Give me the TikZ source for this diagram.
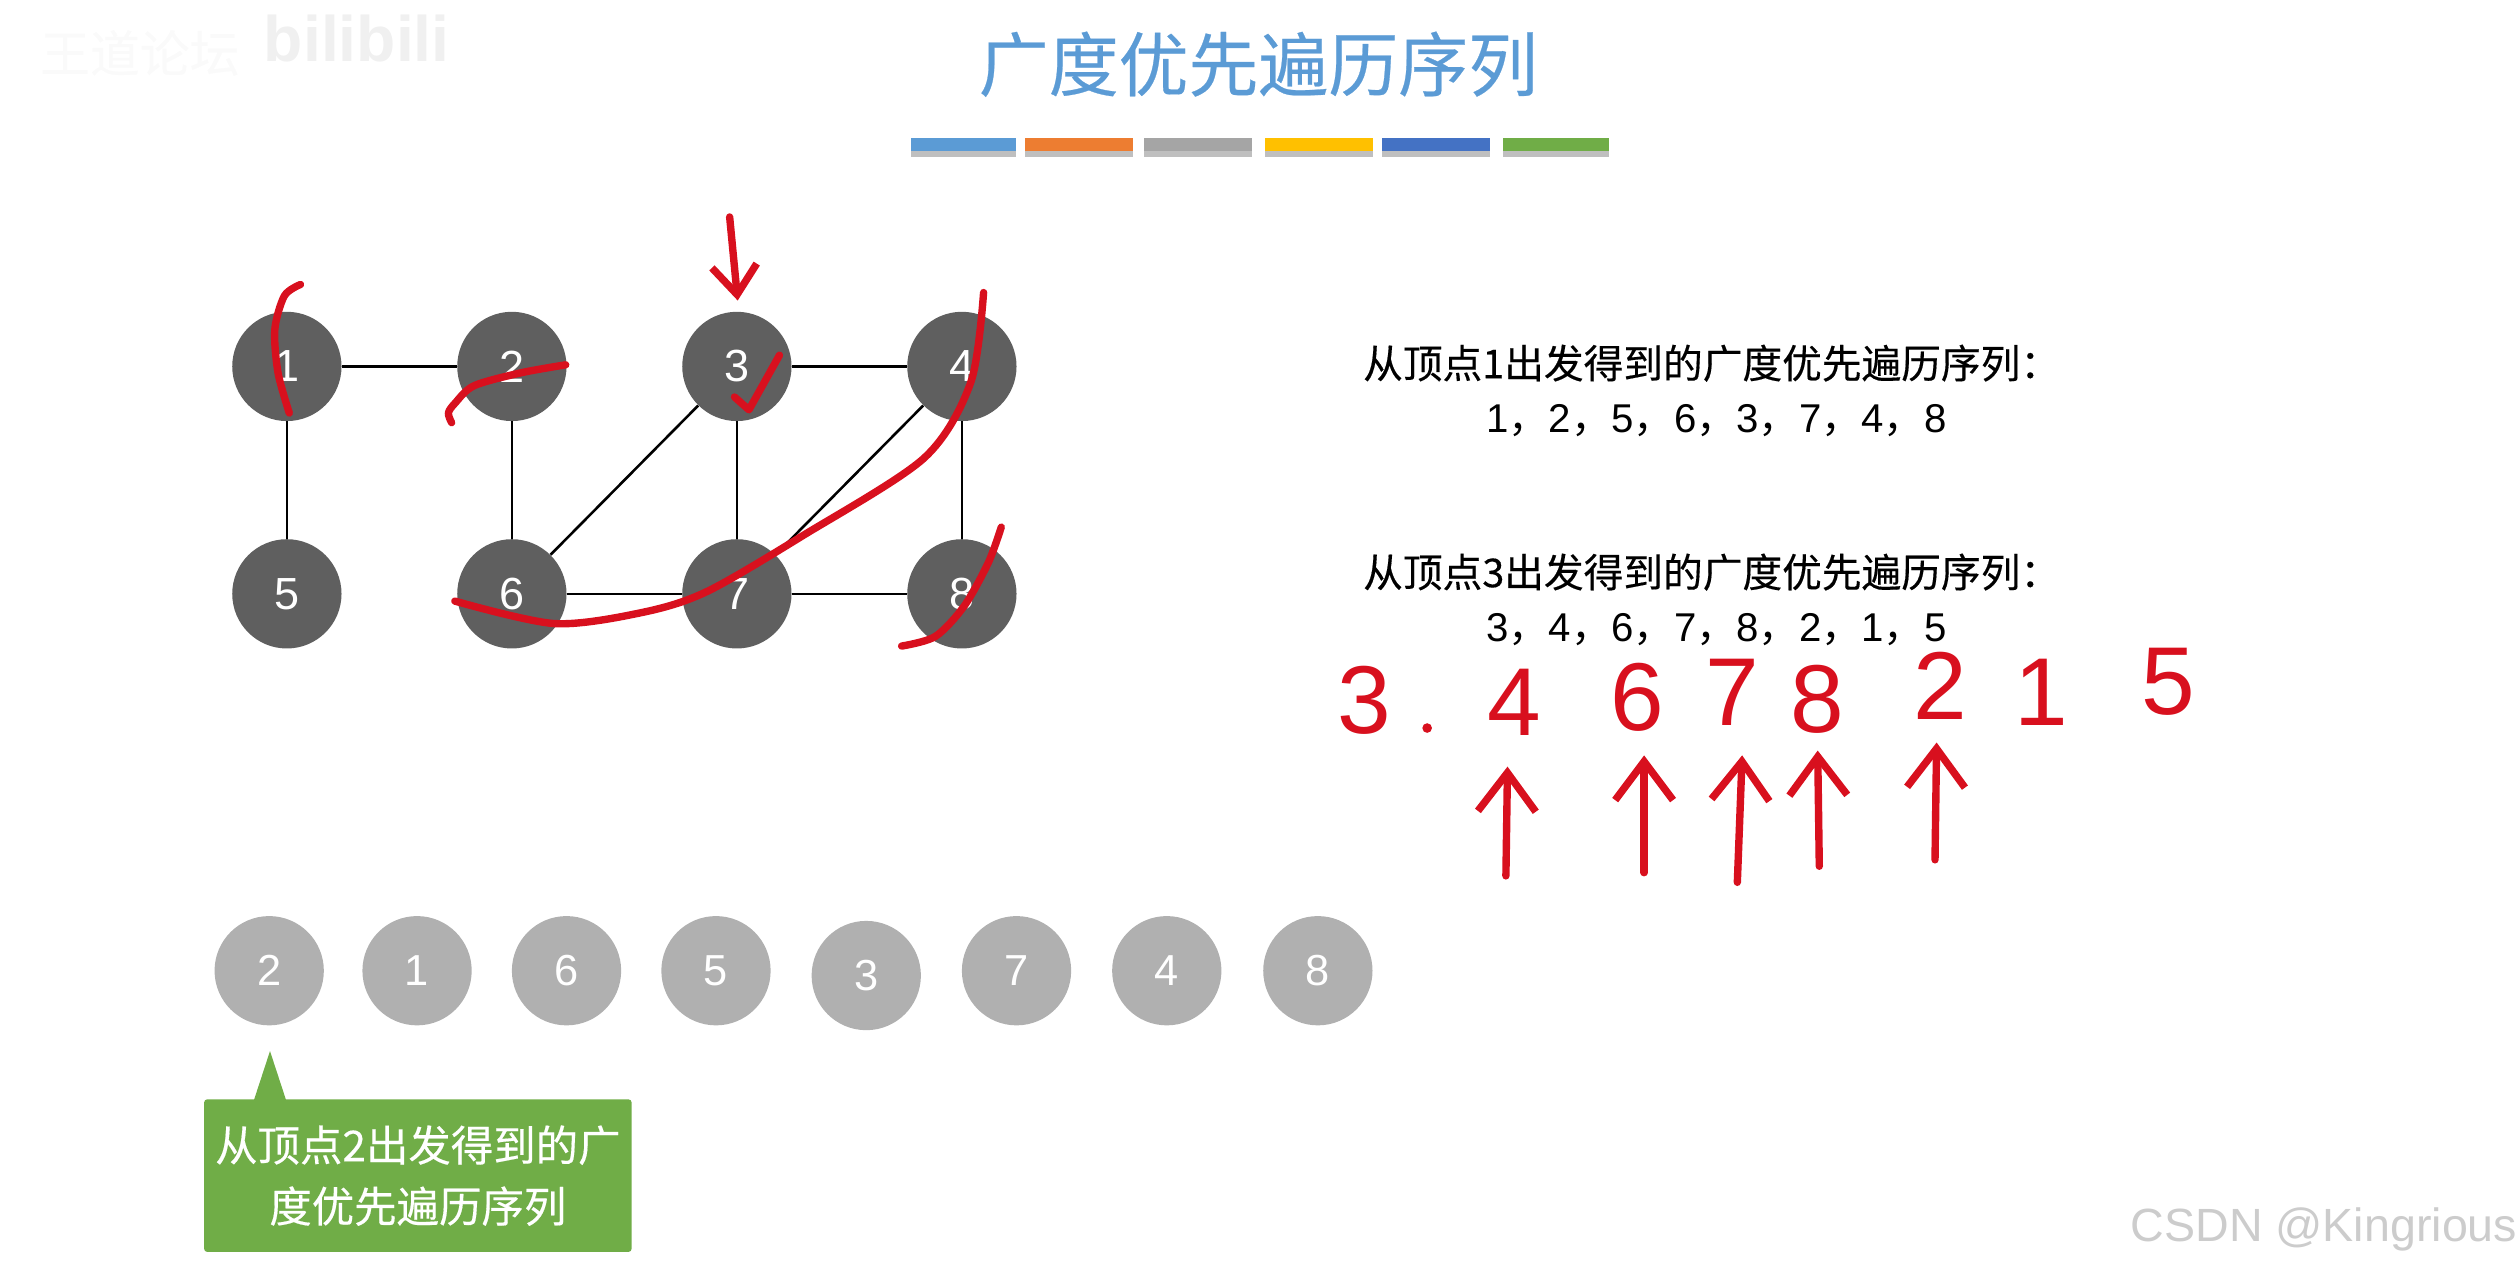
\documentclass[tikz,border=0pt]{standalone}
\usepackage{fontspec}
\setmainfont[FakeBold=0.35]{Noto Sans CJK SC}
\newfontfamily\latinfont{Liberation Sans}
\newfontfamily\commafont{Noto Sans CJK SC}
\newcommand{\seqcomma}{{\commafont ，}}
\usetikzlibrary{arrows.meta,shadows}
\definecolor{vertexgray}{HTML}{5F5F5F}
\definecolor{queuegray}{HTML}{B0B0B0}
\definecolor{tipgreen}{HTML}{70AD47}
\definecolor{titleblue}{HTML}{5B9BD5}
\definecolor{penred}{HTML}{D8101E}
\tikzset{
  vertex/.style={circle, fill=vertexgray, text=white, minimum size=68pt, inner sep=0pt, font=\latinfont\fontsize{28}{28}\selectfont},
  queued/.style={circle, fill=queuegray, text=white, minimum size=68pt, inner sep=0pt, font=\latinfont\fontsize{27}{27}\selectfont},
  edge/.style={line width=1.6pt, black},
  pen/.style={penred, line width=4.6pt, line cap=round, line join=round},
  handdigit/.style={penred, inner sep=0pt, font=\latinfont\fontsize{60}{60}\selectfont},
  seqtext/.style={black, inner sep=0pt, font=\fontsize{24.7}{30}\selectfont},
  seqnums/.style={black, inner sep=0pt, font=\fontsize{25}{30}\selectfont\latinfont},
}
\begin{document}
\begin{tikzpicture}[x=1pt, y=-1pt]
  \useasboundingbox (0,0) rectangle (1568,789);
  % title and colour bars
  \node (title) at (783,40) [titleblue, font=\fontsize{43.5}{43.5}\selectfont] {广度优先遍历序列};
  \foreach \xa/\xb/\col in {567/632/5B9BD5, 638/705/ED7D31, 712/779/A5A5A5, 787/854/FFC000, 860/927/4472C4, 935/1001/70AD47} {
    \definecolor{barcol}{HTML}{\col}
    \fill[barcol, drop shadow={shadow xshift=0pt, shadow yshift=-4pt, opacity=.5}] (\xa,86) rectangle (\xb,94);
  }
  \node (markcn) at (87,33) [black!2, font=\fontsize{31}{31}\selectfont] {王道论坛};
  \node (markbl) at (222,24) [black!6, font=\latinfont\bfseries\fontsize{40}{40}\selectfont] {bilibili};
  % graph
  \foreach \name/\x/\y in {1/178.5/228, 2/318.5/228, 3/458.5/228, 4/598.5/228, 5/178.5/369.5, 6/318.5/369.5, 7/458.5/369.5, 8/598.5/369.5}
    \node[vertex] (v\name) at (\x,\y) {\name};
  \foreach \a/\b in {1/2, 1/5, 2/6, 3/4, 3/6, 3/7, 4/7, 4/8, 6/7, 7/8}
    \draw[edge] (v\a) -- (v\b);
  % queue
  \foreach \name/\x/\y in {2/167.5/604, 1/259.5/604, 6/352.5/604, 5/445.5/604, 3/539/607, 7/632.5/604, 4/726/604, 8/820/604}
    \node[queued] (q\name) at (\x,\y) {\name};
  \node (tip) at (260,731.5) [fill=tipgreen, text=white, rounded corners=2pt, minimum width=266pt, minimum height=95pt, inner sep=0pt, align=center, font=\fontsize{26.4}{38}\selectfont] {从顶点2出发得到的广\\度优先遍历序列};
  \coordinate (tiptop) at (168,654);
  \fill[tipgreen] (tiptop) -- (158,684.5) -- (178,684.5) -- cycle;
  % sequences
  \node[seqtext] (head1) at (1065,226) {从顶点1出发得到的广度优先遍历序列：};
  \node[seqnums] (seq1) at (1068,262) {1\seqcomma 2\seqcomma 5\seqcomma 6\seqcomma 3\seqcomma 7\seqcomma 4\seqcomma 8};
  \node[seqtext] (head3) at (1065,356) {从顶点3出发得到的广度优先遍历序列：};
  \node[seqnums] (seq3) at (1068,392) {3\seqcomma 4\seqcomma 6\seqcomma 7\seqcomma 8\seqcomma 2\seqcomma 1\seqcomma 5};
  % red handwriting
  \draw[pen] plot[smooth] coordinates {(187,177) (177,184) (171,205) (173,232) (180,257)};
  \draw[pen] plot[smooth] coordinates {(352,227) (324,232) (295,240) (283,251) (279,257) (281,263)};
  \draw[pen] (457,247) -- (466,255) -- (485,221);
  \draw[pen] plot[smooth] coordinates {(612,182) (604,238) (575,285) (500,333) (440,368) (400,381) (345,388) (283,374)};
  \draw[pen] plot[smooth] coordinates {(623,328) (615,350) (600,377) (582,396) (561,402)};
  \coordinate (downa) at (454,135);
  \coordinate (downb) at (459,187);
  \draw[pen, -{Straight Barb[length=18pt, width=28pt]}] (downa) -- (downb);
  \foreach \name/\x/\y in {3/849/436, 4/942/437, 6/1019/434, 7/1078/431, 8/1131/435, 2/1207/427, 1/1270/431, 5/1349/424}
    \node[handdigit] (hand\name) at (\x,\y) {\name};
  \fill[penred] (888,453) circle (3pt);
  \foreach \name/\xa/\ya/\xb/\yb in {a/937/545/938/477, b/1023/543/1023/470, c/1081/549/1084/470, d/1132/539/1131/467, e/1204/535/1205/462} {
    \coordinate (up\name1) at (\xa,\ya);
    \coordinate (up\name2) at (\xb,\yb);
    \draw[pen, -{Straight Barb[length=24pt, width=36pt]}] (up\name1) -- (up\name2);
  }
  \node (csdn) at (1446,765) [black!20, font=\latinfont\fontsize{29}{29}\selectfont] {CSDN @Kingrious};
\end{tikzpicture}
\end{document}
